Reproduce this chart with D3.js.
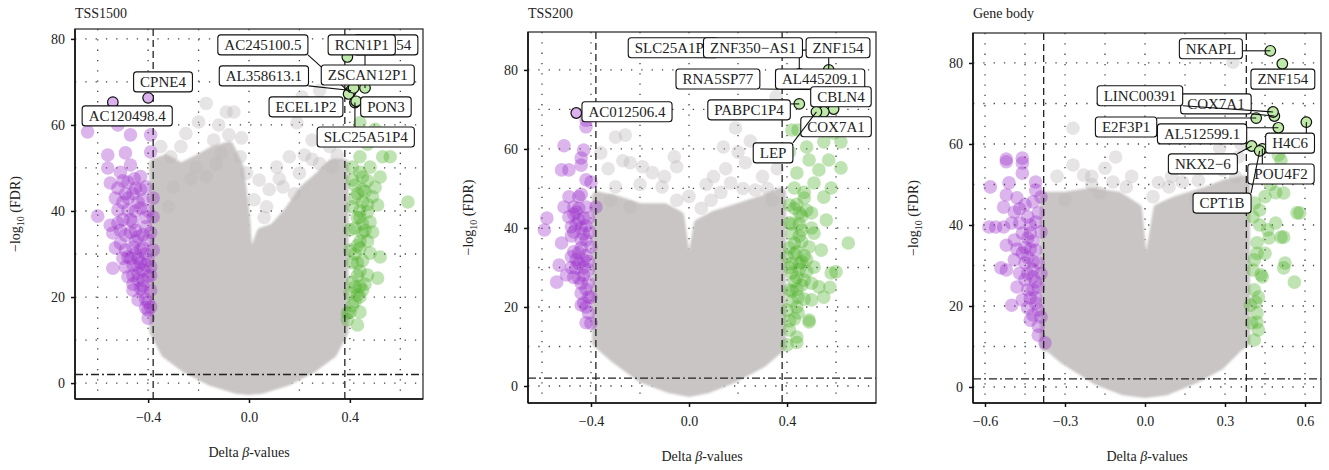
<!DOCTYPE html>
<html>
<head>
<meta charset="utf-8">
<script src="https://cdn.jsdelivr.net/npm/d3@7"></script>
<style>
  body { margin: 0; background: #fff; }
  svg { display: block; }
  text { font-family: "Liberation Serif", "DejaVu Serif", serif; fill: #222; }
</style>
</head>
<body>
<svg id="chart"></svg>
<script>
// --- 1. Data ---

const W = 1329, H = 470;

const titles = ["TSS1500", "TSS200", "Gene body"];
const yTickVals = [0, 20, 40, 60, 80];
const yGridVals = [0, 10, 20, 30, 40, 50, 60, 70, 80];
const xTicksA = [-0.4, 0.0, 0.4];
const xTicksB = [-0.6, -0.3, 0.0, 0.3, 0.6];
const xGridA = [-0.6, -0.4, -0.2, 0.0, 0.2, 0.4, 0.6];
const xGridB = [-0.6, -0.45, -0.3, -0.15, 0.0, 0.15, 0.3, 0.45, 0.6];
const deltaCut = 0.38;
const fdrCut = 2;

// dense grey core of each volcano (outline, delta beta / -log10 FDR)
const p1Cloud = [[-0.375,12],[-0.375,51],[-0.33,52],[-0.27,50],[-0.2,52],[-0.14,54],[-0.08,55],[-0.04,50],[-0.015,38],[0.005,20],[0.02,30],[0.05,35],[0.1,36],[0.16,40],[0.22,45],[0.28,48],[0.33,51],[0.375,51],[0.375,12],[0.33,7],[0.25,3.5],[0.15,0.5],[0.05,-1.3],[0.0,-1.6],[-0.05,-1.3],[-0.15,0.5],[-0.25,3.5],[-0.33,7]];
const p2Cloud = [[-0.375,11],[-0.375,48],[-0.3,47],[-0.2,45],[-0.1,45],[-0.04,43],[-0.015,32],[0.0,24],[0.015,32],[0.04,41],[0.1,43],[0.2,45],[0.3,47],[0.375,49],[0.375,10],[0.3,6],[0.18,2],[0.08,-0.5],[0.0,-1.5],[-0.08,-0.5],[-0.19,2],[-0.3,7]];
const p3Cloud = [[-0.375,10],[-0.375,47],[-0.3,47],[-0.2,48],[-0.1,47],[-0.03,44],[-0.012,32],[0.005,21],[0.02,32],[0.05,44],[0.12,46],[0.22,48],[0.3,50],[0.375,51],[0.375,11],[0.35,10],[0.28,5.4],[0.19,2.2],[0.08,-0.8],[0.0,-1.5],[-0.08,-0.8],[-0.18,1.7],[-0.3,6.7],[-0.36,10]];

// loose grey points above the core
const p1Gray = [[-0.17,65],[-0.2,60.7],[-0.06,63],[-0.09,63],[-0.08,57.7],[-0.27,55],[-0.31,52.6],[-0.14,56.5],[-0.11,53.5],[0.21,66.5],[0.28,68],[0.19,60.5],[0.25,56.5],[0.16,52.6],[0.32,55],[0.33,50.2],[0.11,50.2],[0.04,47.2],[-0.3,45.6],[0.02,42.6],[0.135,45.6],[0.2,48.8],[-0.21,50.2],[-0.17,48],[-0.035,52.6],[-0.01,48.8],[-0.32,41],[0.07,41],[0.25,52],[-0.25,58],[-0.12,60],[-0.03,57],[0.08,45],[0.12,47.5],[0.22,53],[0.3,58],[0.35,53],[-0.35,55],[-0.23,47.5],[-0.13,51],[0.06,38.5],[0.18,44],[0.28,51]];
const p2Gray = [[-0.3,63],[-0.26,63.5],[-0.36,59],[-0.24,56.5],[-0.19,55.5],[-0.15,54],[-0.05,55.5],[-0.06,58],[-0.3,50.4],[-0.32,47],[-0.11,50.4],[0.19,65.3],[0.14,60.5],[0.2,59.2],[0.23,56.5],[0.1,53],[0.17,51.4],[0.3,53],[0.355,73.2],[0.27,49.6],[0.34,47],[0.09,47],[-0.24,45.3],[0.05,45],[-0.05,47],[-0.33,55],[-0.2,51],[-0.1,53],[0.0,48],[0.07,51],[0.13,49],[0.22,50],[0.32,50],[0.25,62],[0.36,55],[-0.27,57],[0.15,55]];
const p3Gray = [[-0.27,63.9],[-0.27,54.8],[-0.23,52.3],[-0.11,56.8],[-0.12,50.6],[-0.07,49.4],[0.33,80.2],[0.09,49.4],[0.14,50.6],[0.28,59],[0.29,53.6],[0.35,56.8],[0.34,51.9],[0.19,46.2],[-0.3,46.2],[-0.17,47.9],[0.33,61.7],[0.03,47],[-0.2,50],[-0.33,52],[-0.2,52],[-0.05,52],[0.05,50.5],[0.2,51],[0.25,55],[0.36,60],[-0.15,54],[0.1,52]];

// hypomethylated (purple) and hypermethylated (green) CpGs
const p1Purple = [[-0.64,58.4],[-0.52,60],[-0.47,57.7],[-0.39,57.7],[-0.56,53],[-0.49,53.5],[-0.39,53.7],[-0.56,50],[-0.51,49],[-0.47,50.7],[-0.55,46.5],[-0.52,45.3],[-0.48,46.7],[-0.45,45.3],[-0.41,45.6],[-0.38,43],[-0.42,42.6],[-0.49,44],[-0.52,40.2],[-0.6,38.8],[-0.48,40.2],[-0.43,40.7],[-0.38,38.6],[-0.55,36.7],[-0.52,37.2],[-0.46,37.4],[-0.41,36.3],[-0.54,34.9],[-0.49,34.4],[-0.44,34],[-0.4,33.3],[-0.53,31.4],[-0.49,30.9],[-0.46,31.6],[-0.42,31.4],[-0.38,30.9],[-0.48,29.3],[-0.44,29],[-0.4,28.6],[-0.54,26.7],[-0.49,27],[-0.46,27.4],[-0.42,26.3],[-0.39,27],[-0.48,24.7],[-0.44,24],[-0.4,24.7],[-0.46,21.6],[-0.42,21.2],[-0.39,21.6],[-0.44,19.3],[-0.4,18.8],[-0.4,17],[-0.4,15.1],[-0.39,17.7],[-0.45,33],[-0.43,31],[-0.47,29],[-0.41,30],[-0.44,27],[-0.46,25],[-0.42,24],[-0.43,22],[-0.47,38],[-0.44,42],[-0.5,42],[-0.46,44],[-0.43,48],[-0.53,43],[-0.41,19.5],[-0.45,35.5],[-0.51,32.5],[-0.42,34.5],[-0.455,47.5],[-0.5,47],[-0.5,38],[-0.47,35],[-0.45,30],[-0.43,28],[-0.41,27.5],[-0.44,25.5],[-0.42,22.5],[-0.41,17.5],[-0.45,40],[-0.48,43],[-0.43,45],[-0.41,38.5],[-0.51,35.5],[-0.5,29],[-0.46,23],[-0.4,40],[-0.39,35],[-0.39,25]];
const p1Green = [[0.53,52.6],[0.56,52.6],[0.44,52.6],[0.48,50.2],[0.41,50.2],[0.52,47.9],[0.45,47.9],[0.41,47.2],[0.63,42.1],[0.45,42.1],[0.49,43.3],[0.41,41],[0.47,39.8],[0.51,41.4],[0.43,38.4],[0.48,37.4],[0.4,35.6],[0.45,34.9],[0.49,35.1],[0.44,31.4],[0.4,30.9],[0.48,30.2],[0.52,29.3],[0.43,27.9],[0.51,24.4],[0.47,25.1],[0.42,22.3],[0.45,21.6],[0.4,20.9],[0.44,20],[0.39,16.3],[0.43,13.5],[0.39,14.7],[0.44,16.5],[0.4,16.5],[0.44,60.5],[0.5,59],[0.42,57],[0.47,55.5],[0.45,45],[0.43,44],[0.44,40],[0.42,36],[0.45,37],[0.44,33],[0.42,30],[0.45,28.5],[0.43,25],[0.41,23.5],[0.44,22.5],[0.42,19],[0.46,44.5],[0.47,33],[0.44,49],[0.47,47],[0.42,43],[0.44,38.5],[0.46,35.5],[0.43,32],[0.41,28],[0.44,26],[0.46,23],[0.43,20.5],[0.41,18],[0.47,41.5],[0.5,45.5],[0.42,46]];
const p2Purple = [[-0.42,65.6],[-0.42,67.3],[-0.51,60.8],[-0.43,59.7],[-0.44,57.7],[-0.49,54.7],[-0.52,54.7],[-0.44,55.9],[-0.4,51.6],[-0.42,52.2],[-0.45,47.9],[-0.49,47.9],[-0.51,45.3],[-0.47,45.3],[-0.42,45.3],[-0.38,45.3],[-0.58,42.5],[-0.59,39.5],[-0.49,42.8],[-0.45,42],[-0.41,42.5],[-0.48,40.3],[-0.44,40],[-0.52,36.2],[-0.42,37],[-0.4,35.2],[-0.45,33.7],[-0.48,32.7],[-0.43,31.9],[-0.53,30.6],[-0.54,26.3],[-0.5,28.1],[-0.46,29.9],[-0.45,27.3],[-0.41,29.4],[-0.41,26.1],[-0.44,23.5],[-0.4,22.5],[-0.44,20.5],[-0.41,18.5],[-0.4,15.9],[-0.42,16],[-0.47,43.5],[-0.46,41],[-0.43,38.5],[-0.44,35],[-0.47,34],[-0.42,33],[-0.45,31],[-0.43,28],[-0.47,27.5],[-0.42,24.5],[-0.46,44],[-0.48,38],[-0.405,39],[-0.43,21],[-0.45,45],[-0.43,42.5],[-0.47,39],[-0.44,37],[-0.46,32],[-0.43,30],[-0.41,31.5],[-0.44,26],[-0.42,20],[-0.41,22.5],[-0.48,30],[-0.42,40.5],[-0.44,48.5]];
const p2Green = [[0.42,64.8],[0.445,64.8],[0.51,64.8],[0.55,61.8],[0.62,61.8],[0.41,59.2],[0.49,57.2],[0.57,57.2],[0.62,55.2],[0.53,54.7],[0.44,53.9],[0.51,51.4],[0.58,50.1],[0.43,50.1],[0.47,47.6],[0.55,47.8],[0.41,45.8],[0.45,43.8],[0.5,43.8],[0.56,42],[0.41,41.3],[0.46,39.5],[0.51,38.7],[0.65,36.2],[0.43,36.2],[0.49,35.2],[0.54,34.4],[0.4,32.7],[0.46,31.4],[0.51,30.1],[0.58,28.6],[0.42,28.6],[0.47,26.8],[0.53,25.1],[0.41,24.3],[0.445,22.5],[0.5,21.8],[0.4,19.2],[0.445,18.5],[0.49,16.7],[0.41,14.2],[0.44,12.4],[0.6,28.9],[0.575,25],[0.55,22.5],[0.49,16.2],[0.44,11],[0.4,10.4],[0.48,60.5],[0.59,64],[0.43,45],[0.45,41],[0.42,38.5],[0.44,34],[0.47,33],[0.42,31],[0.45,29.5],[0.43,26.5],[0.44,24.5],[0.42,21.5],[0.47,22],[0.43,17],[0.48,44.5],[0.46,36.5],[0.41,35],[0.48,29],[0.5,26],[0.44,46],[0.46,43],[0.42,41],[0.45,38],[0.43,33.5],[0.45,31],[0.41,30],[0.44,27.5],[0.46,25.5],[0.42,24],[0.44,20],[0.41,16.5],[0.5,40],[0.48,32],[0.47,49]];
const p3Purple = [[-0.52,55.6],[-0.46,55.3],[-0.52,56.3],[-0.46,56.5],[-0.58,49.4],[-0.51,50.4],[-0.46,52.8],[-0.41,50.6],[-0.41,48.6],[-0.39,46.9],[-0.52,47.4],[-0.48,46.7],[-0.42,45.7],[-0.53,44.4],[-0.49,43.2],[-0.56,39.5],[-0.585,39.5],[-0.53,39.5],[-0.47,40.5],[-0.41,40.7],[-0.49,36.3],[-0.44,36.8],[-0.39,38.3],[-0.52,35],[-0.46,33.1],[-0.41,33.8],[-0.49,31.4],[-0.45,30.6],[-0.4,30.6],[-0.52,28.9],[-0.54,29.4],[-0.47,28.1],[-0.42,27.2],[-0.48,24.7],[-0.44,24],[-0.4,24.7],[-0.5,20.2],[-0.46,21.5],[-0.41,20.7],[-0.42,17.8],[-0.39,17.3],[-0.43,16.5],[-0.4,12.8],[-0.375,10.9],[-0.44,42],[-0.43,38],[-0.45,34.5],[-0.42,31],[-0.44,28],[-0.41,26],[-0.43,22],[-0.4,19],[-0.47,44],[-0.4,43],[-0.42,36],[-0.45,45],[-0.43,40],[-0.46,38],[-0.44,32],[-0.42,29],[-0.45,26.5],[-0.42,24],[-0.41,22],[-0.44,19.5],[-0.4,15],[-0.43,34],[-0.5,40.5],[-0.48,34],[-0.39,28]];
const p3Green = [[0.51,56],[0.5,57.3],[0.57,43],[0.58,43],[0.49,48],[0.52,47.9],[0.41,45.4],[0.45,47],[0.43,43.7],[0.405,42],[0.46,38.8],[0.51,37],[0.49,40.5],[0.42,35.6],[0.45,33],[0.41,31.4],[0.44,27.2],[0.56,25.9],[0.525,30.6],[0.405,28.9],[0.425,22.2],[0.395,20.2],[0.42,18.3],[0.4,15.8],[0.425,14.1],[0.41,11.6],[0.52,29.4],[0.435,27.7],[0.415,21],[0.465,36.8],[0.52,37],[0.44,52],[0.47,50],[0.43,40],[0.42,33],[0.41,24],[0.42,16]];

// labelled top CpGs: [gene, delta beta, -log10 FDR]
const p1Top = [["AC245100.5",0.4,67.5],["ZNF154",0.46,68.6],["RCN1P1",0.39,75.8],["AL358613.1",0.405,68],["ECEL1P2",0.395,67.2],["SLC25A51P4",0.42,65.2],["PON3",0.425,65.5],["ZSCAN12P1",0.415,68.6],["CPNE4",-0.4,66.3],["AC120498.4",-0.54,65.3]];
const p2Top = [["SLC25A1P5",0.52,85],["ZNF350\u2212AS1",0.45,79],["ZNF154",0.57,80],["RNA5SP77",0.55,75],["AL445209.1",0.5,78],["CBLN4",0.59,70.1],["PABPC1P4",0.45,71.4],["COX7A1",0.55,69.4],["LEP",0.52,69.4],["AC012506.4",-0.46,69.1]];
const p3Top = [["NKAPL",0.47,83],["ZNF154",0.515,79.8],["COX7A1",0.485,66.9],["LINC00391",0.48,67.9],["E2F3P1",0.417,66.4],["AL512599.1",0.5,64],["H4C6",0.605,65.4],["NKX2\u22126",0.4,59.5],["POU4F2",0.44,58.8],["CPT1B",0.43,58.3]];

// where the repelled label boxes sit (same units as the axes)
const p1LabelPos = [[0.055,78.6],[0.543,78.6],[0.447,78.6],[0.059,71.4],[0.226,64.2],[0.463,57.2],[0.543,64.2],[0.471,71.6],[-0.341,70],[-0.483,62.1]];
const p2LabelPos = [[-0.065,85.6],[0.261,85.6],[0.608,85.6],[0.118,77.7],[0.535,77.7],[0.62,73.2],[0.245,69.9],[0.6,65.6],[0.343,59],[-0.253,69.4]];
const p3LabelPos = [[0.247,83.5],[0.517,76],[0.266,69.9],[-0.019,71.9],[-0.071,64.2],[0.214,62.5],[0.544,60.2],[0.217,55.1],[0.51,52.6],[0.289,45.4]];

// --- 2. Layout and styles ---

const panels = [
  { left: 75,  right: 423,  top: 29, bottom: 399, xDomain: [-0.69, 0.69],   yDomain: [-3.7, 82.3],
    xTicks: xTicksA, xGrid: xGridA, cloud: p1Cloud, gray: p1Gray, purple: p1Purple, green: p1Green, top10: p1Top, pos: p1LabelPos },
  { left: 528, right: 876,  top: 32, bottom: 403, xDomain: [-0.657, 0.763], yDomain: [-4.3, 89.6],
    xTicks: xTicksA, xGrid: xGridA, cloud: p2Cloud, gray: p2Gray, purple: p2Purple, green: p2Green, top10: p2Top, pos: p2LabelPos },
  { left: 973, right: 1321, top: 33, bottom: 403, xDomain: [-0.645, 0.66],  yDomain: [-3.95, 87.4],
    xTicks: xTicksB, xGrid: xGridB, cloud: p3Cloud, gray: p3Gray, purple: p3Purple, green: p3Green, top10: p3Top, pos: p3LabelPos }
];

const grayFill = '#bdb8b8';
const coreFill = '#c9c5c5';
const purpleFill = '#9a33c9';
const greenFill = '#46ad1f';
const dotR = 6.8;

const svg = d3.select('#chart').attr('width', W).attr('height', H);
const fmt = d3.format('.1f');

// soft edge for the grey core, like overlapping dots
svg.append('defs').append('filter').attr('id', 'soft')
  .attr('x', '-5%').attr('y', '-5%').attr('width', '110%').attr('height', '110%')
  .append('feGaussianBlur').attr('stdDeviation', 1.3);

// --- 3. Draw the three volcano plots ---

panels.forEach(function(p, i) {
  const x = d3.scaleLinear().domain(p.xDomain).range([p.left, p.right]);
  const y = d3.scaleLinear().domain(p.yDomain).range([p.bottom, p.top]);

  svg.append('clipPath').attr('id', 'clip' + i)
    .append('rect')
    .attr('x', p.left).attr('y', p.top)
    .attr('width', p.right - p.left).attr('height', p.bottom - p.top);

  const g = svg.append('g').attr('clip-path', 'url(#clip' + i + ')');

  // dotted grid
  g.selectAll('.gx').data(p.xGrid).enter().append('line')
    .attr('x1', d => x(d)).attr('x2', d => x(d))
    .attr('y1', p.top).attr('y2', p.bottom)
    .attr('stroke', '#444').attr('stroke-width', 1.3).attr('stroke-dasharray', '1.3,9');
  g.selectAll('.gy').data(yGridVals).enter().append('line')
    .attr('x1', p.left).attr('x2', p.right)
    .attr('y1', d => y(d)).attr('y2', d => y(d))
    .attr('stroke', '#444').attr('stroke-width', 1.3).attr('stroke-dasharray', '1.3,9');

  // grey core
  const outline = d3.line().x(d => x(d[0])).y(d => y(d[1])).curve(d3.curveLinearClosed);
  g.append('path')
    .attr('d', outline(p.cloud))
    .attr('fill', coreFill).attr('stroke', coreFill)
    .attr('stroke-width', 10).attr('stroke-linejoin', 'round')
    .attr('filter', 'url(#soft)');

  function dots(data, color, op) {
    g.append('g').selectAll('circle').data(data).enter().append('circle')
      .attr('cx', d => x(d[0])).attr('cy', d => y(d[1])).attr('r', dotR)
      .attr('fill', color).attr('fill-opacity', op);
  }
  dots(p.gray, grayFill, 0.38);
  dots(p.purple, purpleFill, 0.36);
  dots(p.green, greenFill, 0.34);

  // cut-off lines
  [-deltaCut, deltaCut].forEach(function(v) {
    g.append('line')
      .attr('x1', x(v)).attr('x2', x(v)).attr('y1', p.top).attr('y2', p.bottom)
      .attr('stroke', '#222').attr('stroke-width', 1.3).attr('stroke-dasharray', '7,4');
  });
  g.append('line')
    .attr('x1', p.left).attr('x2', p.right).attr('y1', y(fdrCut)).attr('y2', y(fdrCut))
    .attr('stroke', '#222').attr('stroke-width', 1.3).attr('stroke-dasharray', '8,3,2,3');

  // highlighted top genes
  g.append('g').selectAll('circle').data(p.top10).enter().append('circle')
    .attr('cx', d => x(d[1])).attr('cy', d => y(d[2])).attr('r', 5.3)
    .attr('fill', d => d[1] < 0 ? '#dcb2ee' : '#bfe9a8')
    .attr('stroke', '#111').attr('stroke-width', 1.2);

  // frame + axes
  svg.append('rect')
    .attr('x', p.left).attr('y', p.top)
    .attr('width', p.right - p.left).attr('height', p.bottom - p.top)
    .attr('fill', 'none').attr('stroke', '#333').attr('stroke-width', 1.3);
  svg.append('line').attr('x1', p.left).attr('x2', p.left).attr('y1', p.top).attr('y2', p.bottom)
    .attr('stroke', '#111').attr('stroke-width', 1.6);
  svg.append('line').attr('x1', p.left).attr('x2', p.right).attr('y1', p.bottom).attr('y2', p.bottom)
    .attr('stroke', '#111').attr('stroke-width', 1.6);

  const yAxis = svg.append('g').attr('transform', `translate(${p.left},0)`)
    .call(d3.axisLeft(y).tickValues(yTickVals).tickSize(4).tickPadding(6));
  const xAxis = svg.append('g').attr('transform', `translate(0,${p.bottom})`)
    .call(d3.axisBottom(x).tickValues(p.xTicks).tickSize(4).tickPadding(9).tickFormat(fmt));
  [yAxis, xAxis].forEach(function(a) {
    a.select('.domain').remove();
    a.selectAll('line').attr('stroke', '#111').attr('stroke-width', 1.5);
    a.selectAll('text').attr('font-size', 14).attr('fill', '#333')
      .attr('font-family', '"Liberation Serif", serif');
  });

  // titles and axis labels
  svg.append('text').attr('x', p.left).attr('y', 18)
    .attr('font-size', 14).text(titles[i]);

  const xl = svg.append('text')
    .attr('x', (p.left + p.right) / 2).attr('y', p.bottom + 58)
    .attr('text-anchor', 'middle').attr('font-size', 14);
  xl.append('tspan').text('Delta ');
  xl.append('tspan').attr('font-style', 'italic').text('\u03b2');
  xl.append('tspan').text('-values');

  const yl = svg.append('text')
    .attr('transform', `translate(${p.left - 55},${(p.top + p.bottom) / 2}) rotate(-90)`)
    .attr('text-anchor', 'middle').attr('font-size', 14);
  yl.append('tspan').text('\u2212log');
  yl.append('tspan').attr('font-size', 10).attr('dy', 4).text('10');
  yl.append('tspan').attr('dy', -4).text(' (FDR)');

  // repelled labels: segment first, then box, one label at a time
  const lab = svg.append('g');
  p.top10.forEach(function(d, k) {
    const cx = x(p.pos[k][0]), cy = y(p.pos[k][1]);
    const t = lab.append('text').attr('font-size', 15).text(d[0]);
    const tw = t.node().getComputedTextLength();
    t.remove();
    const bw = tw + 13, bh = 20;
    const bx = cx - bw / 2, by = cy - bh / 2;
    const px = x(d[1]), py = y(d[2]);
    const sx = Math.max(bx, Math.min(bx + bw, px));
    const sy = Math.max(by, Math.min(by + bh, py));
    if (Math.hypot(px - sx, py - sy) > 8) {
      lab.append('line').attr('x1', sx).attr('y1', sy).attr('x2', px).attr('y2', py)
        .attr('stroke', '#111').attr('stroke-width', 1.1);
    }
    lab.append('rect').attr('x', bx).attr('y', by).attr('width', bw).attr('height', bh)
      .attr('rx', 3).attr('fill', '#fff').attr('stroke', '#111').attr('stroke-width', 1.1);
    lab.append('text').attr('x', cx).attr('y', cy + 5)
      .attr('text-anchor', 'middle').attr('font-size', 15).attr('fill', '#111').text(d[0]);
  });
});
</script>
</body>
</html>
